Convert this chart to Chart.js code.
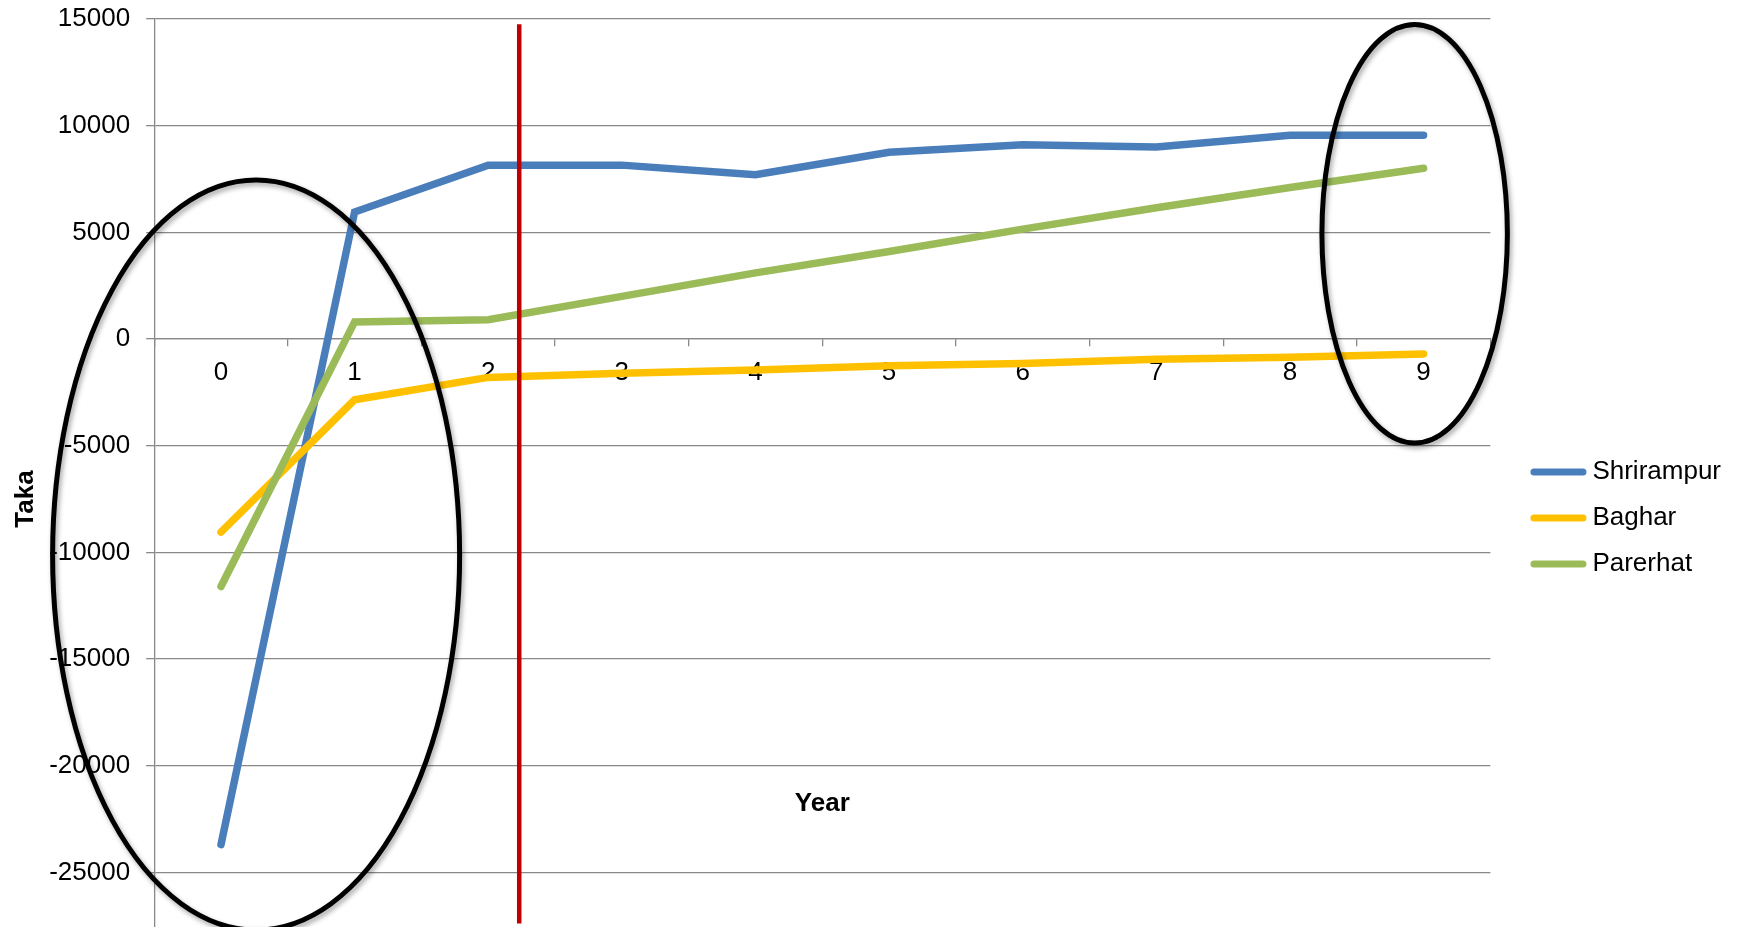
<!DOCTYPE html>
<html>
<head>
<meta charset="utf-8">
<script src="https://cdn.jsdelivr.net/npm/chart.js@4.4.1/dist/chart.umd.min.js"></script>
<style>
  html, body { margin: 0; padding: 0; background: #ffffff; overflow: hidden; }
  #wrap { position: relative; width: 1741px; height: 1040px; }
</style>
</head>
<body>
<div id="wrap"><canvas id="c"></canvas></div>
<script>
// ---- data ----
const years = ['0', '1', '2', '3', '4', '5', '6', '7', '8', '9'];
const shrirampur = [-23700, 5950, 8150, 8150, 7700, 8750, 9100, 9000, 9550, 9550];
const baghar     = [-9050, -2850, -1800, -1600, -1450, -1250, -1150, -950, -850, -700];
const parerhat   = [-11600, 800, 900, 2000, 3100, 4100, 5150, 6150, 7100, 8000];
const seriesNames = ['Shrirampur', 'Baghar', 'Parerhat'];
const yTicks = [15000, 10000, 5000, 0, -5000, -10000, -15000, -20000, -25000, -30000];

// annotations (in data units): red divider and highlight ellipses
const dividerX = 2.232;
const dividerRange = [14750, -27400];
const ellipseCenters = [[0.263, -10125], [8.933, 4936]];
const ellipseRadii = [[1.523, 17578], [0.694, 9811]];

const FONT = "'Liberation Sans', Arial, sans-serif";
const GRID = '#898989';
const colors = ['#4A7EBB', '#FFC000', '#9BBB59'];
const values = [shrirampur, baghar, parerhat];

// legend swatch: a rounded line drawn in the right part of a small canvas
function swatch(color) {
  const cv = document.createElement('canvas');
  cv.width = 86; cv.height = 10;
  const g = cv.getContext('2d');
  g.strokeStyle = color;
  g.lineWidth = 7;
  g.lineCap = 'round';
  g.beginPath();
  g.moveTo(32, 5);
  g.lineTo(81, 5);
  g.stroke();
  return cv;
}
const swatches = colors.map(swatch);

const annotationPlugin = {
  id: 'annot',
  afterDatasetsDraw(chart) {
    const {ctx, scales: {x, y}} = chart;
    ctx.save();
    const px = x.getPixelForValue(dividerX);
    ctx.strokeStyle = '#C00000';
    ctx.lineWidth = 4.5;
    ctx.beginPath();
    ctx.moveTo(px, y.getPixelForValue(dividerRange[0]));
    ctx.lineTo(px, y.getPixelForValue(dividerRange[1]));
    ctx.stroke();
    ctx.strokeStyle = '#000000';
    ctx.lineWidth = 5;
    ctx.shadowColor = 'rgba(0,0,0,0.35)';
    ctx.shadowBlur = 5;
    ctx.shadowOffsetX = 2;
    ctx.shadowOffsetY = 3;
    ellipseCenters.forEach((c, i) => {
      const cx = x.getPixelForValue(c[0]);
      const cy = y.getPixelForValue(c[1]);
      const rx = x.getPixelForValue(c[0] + ellipseRadii[i][0]) - cx;
      const ry = cy - y.getPixelForValue(c[1] + ellipseRadii[i][1]);
      ctx.beginPath();
      ctx.ellipse(cx, cy, Math.abs(rx), Math.abs(ry), 0, 0, Math.PI * 2);
      ctx.stroke();
    });
    ctx.restore();
  }
};

new Chart(document.getElementById('c'), {
  type: 'line',
  data: {
    labels: years,
    datasets: values.map((v, i) => ({
      label: seriesNames[i],
      data: v,
      borderColor: colors[i],
      backgroundColor: colors[i],
      borderWidth: 7.5,
      borderCapStyle: 'round',
      borderJoinStyle: 'miter',
      pointRadius: 0,
      pointHoverRadius: 0,
      tension: 0,
      fill: false,
      order: 3 - i
    }))
  },
  options: {
    responsive: true,
    maintainAspectRatio: false,
    animation: false,
    devicePixelRatio: 1,
    layout: { padding: { left: 8, right: 10, top: 19, bottom: 61 } },
    plugins: {
      tooltip: { enabled: false },
      legend: {
        position: 'right',
        align: 'center',
        title: { display: true, text: ' ', font: { size: 10, family: FONT }, padding: 13 },
        labels: {
          font: { size: 26, family: FONT },
          color: '#000000',
          usePointStyle: true,
          pointStyleWidth: 69,
          boxHeight: 7,
          padding: 20,
          sort: (a, b) => a.datasetIndex - b.datasetIndex,
          generateLabels: (chart) => Chart.defaults.plugins.legend.labels.generateLabels(chart)
            .map(l => Object.assign(l, { pointStyle: swatches[l.datasetIndex], lineWidth: 0 }))
        }
      }
    },
    scales: {
      x: {
        type: 'category',
        position: { y: 0 },
        offset: true,
        grid: { display: true, drawOnChartArea: false, drawTicks: true, tickLength: 7, color: GRID, lineWidth: 1.3, offset: true },
        border: { display: true, color: GRID, width: 1.3 },
        ticks: { font: { size: 26, family: FONT }, color: '#000000', padding: 11, maxRotation: 0, autoSkip: false },
        title: { display: true, text: 'Year', font: { size: 26, weight: 'bold', family: FONT }, color: '#000000', padding: { top: 389, bottom: 0 } }
      },
      y: {
        min: yTicks[yTicks.length - 1],
        max: yTicks[0],
        afterBuildTicks: (scale) => { scale.ticks = yTicks.slice().reverse().map(v => ({ value: v })); },
        afterFit: (scale) => { scale.paddingTop = 0; scale.paddingBottom = 0; },
        grid: { color: GRID, lineWidth: 1.3, tickLength: 8, drawTicks: true },
        border: { display: true, color: GRID, width: 1.3 },
        ticks: { font: { size: 26, family: FONT }, color: '#000000', padding: 16, callback: (v) => String(v) },
        title: { display: true, text: 'Taka', font: { size: 26, weight: 'bold', family: FONT }, color: '#000000', padding: { top: 2, bottom: -8 } }
      }
    }
  },
  plugins: [annotationPlugin]
});
</script>
</body>
</html>
